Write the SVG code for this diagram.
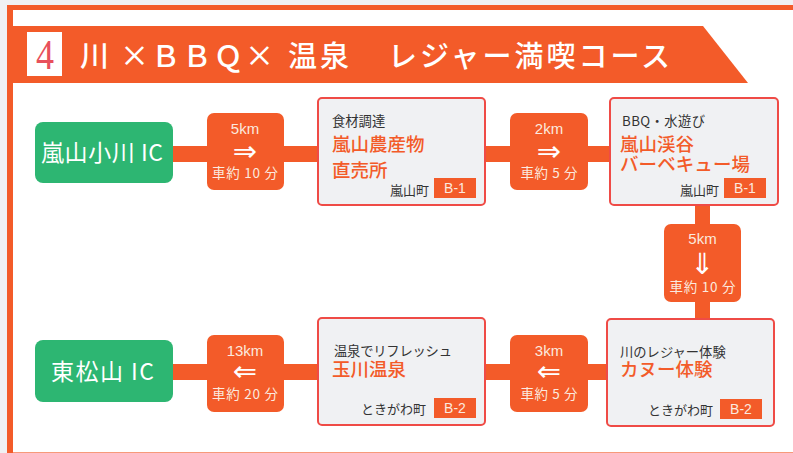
<svg xmlns="http://www.w3.org/2000/svg" width="793" height="453" viewBox="0 0 793 453">
<style>
text{font-family:"Noto Sans CJK JP","Noto Sans",sans-serif}
.stop{fill:#f0f1f3;stroke:#ef4b46;stroke-width:2}
.dist{fill:#f35b29}
.ic{fill:#2db672}
.d{fill:#fbe9df;font-size:13.500px;text-anchor:middle}
.km{font-size:15px;font-family:"Liberation Sans",sans-serif}
.sub{fill:#333;font-size:13.300px}
.name{fill:#f35b29;font-size:18.500px;font-weight:500}
.town{fill:#333;font-size:13px;text-anchor:end}
.tag{fill:#f35b29}
.tagt{fill:#fbe9df;font-size:14px;text-anchor:middle;font-family:"Liberation Sans",sans-serif}
.ict{fill:#fff;font-size:23px;text-anchor:middle}
.arr{fill:#fff;font-size:29px;text-anchor:middle;font-family:"DejaVu Sans",sans-serif}
</style>
<rect width="793" height="453" fill="#f0f1f3"/>
<rect x="7" y="5" width="786" height="448" fill="#f35b29"/>
<rect x="13" y="10" width="780" height="442" fill="#fff"/>
<rect x="13" y="452" width="780" height="1" fill="#f79a7a"/>
<polygon points="13,26 703,26 748,83 13,83" fill="#f35b29"/>
<rect x="27" y="32" width="35" height="44" fill="#fff"/>
<text x="36" y="68.500" font-size="42" fill="#e8505b" textLength="18" lengthAdjust="spacingAndGlyphs" style="font-family:'Liberation Serif',serif">4</text>
<text y="67" font-size="29" font-weight="500" fill="#fff" xml:space="preserve"><tspan x="80" textLength="194">川 ×ＢＢＱ×</tspan> <tspan x="288" textLength="61">温泉</tspan>　<tspan x="388" textLength="282">レジャー満喫コース</tspan></text>
<g id="connectors" fill="#f35b29">
<rect x="173" y="146" width="145" height="16"/>
<rect x="485" y="146" width="125" height="16"/>
<rect x="695" y="205" width="15" height="114"/>
<rect x="485" y="364" width="122" height="16"/>
<rect x="173" y="364" width="145" height="16"/>
</g>
<g id="ic1"><rect class="ic" x="35" y="122" width="138" height="61" rx="8"/><text class="ict" x="102" y="161" textLength="122">嵐山小川 IC</text></g>
<g id="dist1"><rect class="dist" x="207" y="113" width="77" height="77" rx="7"/><text class="d km" x="245" y="134">5km</text><text class="arr" x="245" y="161">⇒</text><text class="d" x="245" y="178" textLength="66">車約 10 分</text></g>
<g id="stop1"><rect class="stop" x="318" y="98" width="167" height="107" rx="4"/><text class="sub" x="332" y="126">食材調達</text><text class="name" x="332" y="151">嵐山農産物</text><text class="name" x="332" y="177">直売所</text><text class="town" x="429" y="195">嵐山町</text><rect class="tag" x="434" y="178" width="42" height="20"/><text class="tagt" x="455" y="193">B-1</text></g>
<g id="dist2"><rect class="dist" x="510" y="113" width="78" height="77" rx="7"/><text class="d km" x="549" y="134">2km</text><text class="arr" x="549" y="161">⇒</text><text class="d" x="549" y="178" textLength="57">車約 5 分</text></g>
<g id="stop2"><rect class="stop" x="610" y="98" width="168" height="107" rx="4"/><text class="sub" x="622" y="126" textLength="83">BBQ・水遊び</text><text class="name" x="620" y="151">嵐山渓谷</text><text class="name" x="620" y="171" textLength="130">バーベキュー場</text><text class="town" x="719" y="195">嵐山町</text><rect class="tag" x="724" y="178" width="42" height="20"/><text class="tagt" x="745" y="193">B-1</text></g>
<g id="dist3"><rect class="dist" x="664" y="224" width="77" height="78" rx="7"/><text class="d km" x="702.500" y="244">5km</text><text class="arr" x="702.500" y="274">⇓</text><text class="d" x="702.500" y="292" textLength="66">車約 10 分</text></g>
<g id="stop3"><rect class="stop" x="607" y="319" width="167" height="107" rx="4"/><text class="sub" x="620" y="357">川のレジャー体験</text><text class="name" x="620" y="376">カヌー体験</text><text class="town" x="713" y="415">ときがわ町</text><rect class="tag" x="720" y="399" width="42" height="20"/><text class="tagt" x="741" y="414">B-2</text></g>
<g id="dist4"><rect class="dist" x="510" y="335" width="78" height="77" rx="7"/><text class="d km" x="549" y="356">3km</text><text class="arr" x="549" y="381">⇐</text><text class="d" x="549" y="399" textLength="57">車約 5 分</text></g>
<g id="stop4"><rect class="stop" x="318" y="318" width="167" height="107" rx="4"/><text class="sub" x="334" y="356" textLength="118">温泉でリフレッシュ</text><text class="name" x="332" y="376">玉川温泉</text><text class="town" x="426" y="414">ときがわ町</text><rect class="tag" x="434" y="398" width="42" height="20"/><text class="tagt" x="455" y="413">B-2</text></g>
<g id="dist5"><rect class="dist" x="207" y="335" width="77" height="77" rx="7"/><text class="d km" x="245" y="356">13km</text><text class="arr" x="245" y="381">⇐</text><text class="d" x="245" y="399" textLength="66">車約 20 分</text></g>
<g id="ic2"><rect class="ic" x="35" y="340" width="138" height="62" rx="8"/><text class="ict" x="102.500" y="380" textLength="103">東松山 IC</text></g>
</svg>
